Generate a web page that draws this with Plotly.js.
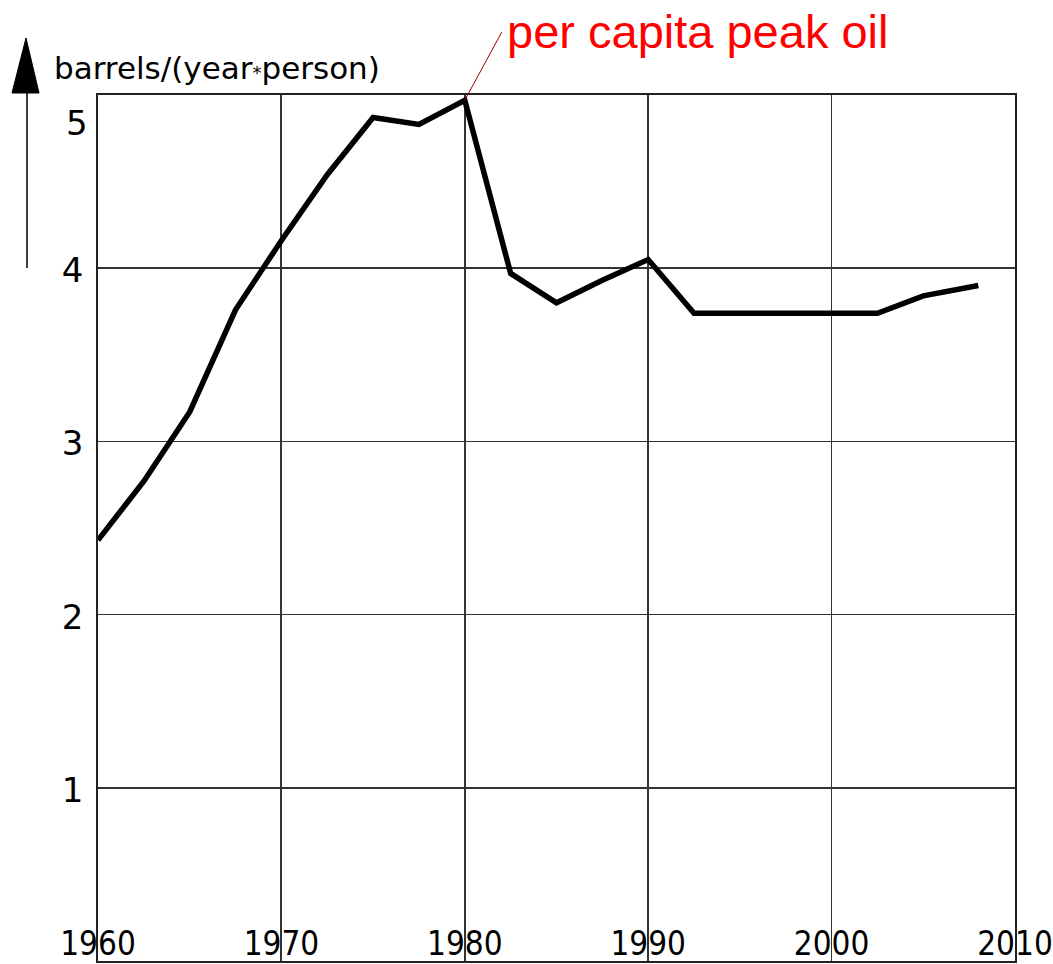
<!DOCTYPE html>
<html>
<head>
<meta charset="utf-8">
<script src="https://cdn.plot.ly/plotly-3.0.1.min.js"></script>
<style>html,body{margin:0;padding:0;background:#fff;}#chart{width:1053px;height:964px;}</style>
</head>
<body>
<div id="chart"></div>
<script>
// Data
const years = [1960, 1962.5, 1965, 1967.5, 1970, 1972.5, 1975, 1977.5, 1980, 1982.5, 1985, 1987.5, 1990, 1992.5, 1995, 1997.5, 2000, 2002.5, 2005, 2008];
const barrelsPerPerson = [2.43, 2.77, 3.17, 3.76, 4.16, 4.54, 4.87, 4.83, 4.97, 3.97, 3.80, 3.93, 4.05, 3.74, 3.74, 3.74, 3.74, 3.74, 3.84, 3.90];
const xTickVals = [1960, 1970, 1980, 1990, 2000, 2010];
const xTickText = ["1960", "1970", "1980", "1990", "2000", "2010"];
const yTickVals = [1, 2, 3, 4];
const yTickText = ["1", "2", "3", "4"];
const topTickLabel = "5";
const yUnitLabel = "barrels/(year<span style=\"font-size:18px\">*</span>person)";
const peakLabel = "per capita peak oil";
const peakYear = 1980;
const peakValue = 4.97;

const trace = {
  x: years,
  y: barrelsPerPerson,
  type: "scatter",
  mode: "lines",
  line: {color: "#000000", width: 5.5},
  hoverinfo: "skip"
};

const layout = {
  width: 1053,
  height: 964,
  margin: {l: 98, r: 38, t: 95, b: 3, pad: 0},
  paper_bgcolor: "#ffffff",
  plot_bgcolor: "#ffffff",
  showlegend: false,
  xaxis: {
    range: [1960, 2010],
    tickvals: xTickVals,
    ticktext: xTickText,
    ticks: "",
    ticklabelstandoff: -47,
    ticklabeloverflow: "allow",
    showgrid: true,
    gridcolor: "#333333",
    gridwidth: 1.8,
    showline: true,
    linecolor: "#222222",
    linewidth: 1.8,
    mirror: true,
    zeroline: false,
    tickfont: {family: "DejaVu Sans Condensed, Liberation Sans Narrow, DejaVu Sans", size: 33, color: "#000000"},
    fixedrange: true
  },
  yaxis: {
    range: [0, 5],
    tickvals: yTickVals,
    ticktext: yTickText,
    ticks: "",
    ticklabelstandoff: 6,
    ticklabelshift: 2,
    ticklabeloverflow: "allow",
    showgrid: true,
    gridcolor: "#333333",
    gridwidth: 1.8,
    showline: true,
    linecolor: "#222222",
    linewidth: 1.8,
    mirror: true,
    zeroline: false,
    tickfont: {family: "DejaVu Sans", size: 34, color: "#000000"},
    fixedrange: true
  },
  shapes: [
    {type: "line", xref: "paper", yref: "paper", x0: -0.0774, x1: -0.0774, y0: 0.8002, y1: 1.0023,
     line: {color: "#000000", width: 1.5}},
    {type: "path", xref: "paper", yref: "paper",
     path: "M -0.0785 1.0658 L -0.0938 1.0023 L -0.0643 1.0023 Z",
     fillcolor: "#000000", line: {color: "#000000", width: 1}}
  ],
  annotations: [
    {xref: "paper", yref: "paper", x: -0.0505, y: 1.0312, xanchor: "left", yanchor: "middle",
     text: yUnitLabel, showarrow: false,
     font: {family: "DejaVu Sans", size: 31, color: "#000000"}},
    {xref: "paper", yref: "y", x: 0, y: 5, xanchor: "right", yanchor: "middle", xshift: -8, yshift: -28,
     text: topTickLabel, showarrow: false,
     font: {family: "DejaVu Sans", size: 34, color: "#000000"}},
    {xref: "x", yref: "y", x: peakYear, y: peakValue, text: " ", showarrow: true,
     arrowhead: 0, arrowwidth: 1, arrowcolor: "#990000", ax: 38, ay: -70,
     standoff: 0, startstandoff: 0, font: {size: 1}},
    {xref: "paper", yref: "paper", x: 0.4435, y: 1.0735, xanchor: "left", yanchor: "middle",
     text: peakLabel, showarrow: false,
     font: {family: "Liberation Sans, Arial", size: 47, color: "#ff0000"}}
  ]
};

Plotly.newPlot("chart", [trace], layout, {displayModeBar: false, staticPlot: true});
</script>
</body>
</html>
